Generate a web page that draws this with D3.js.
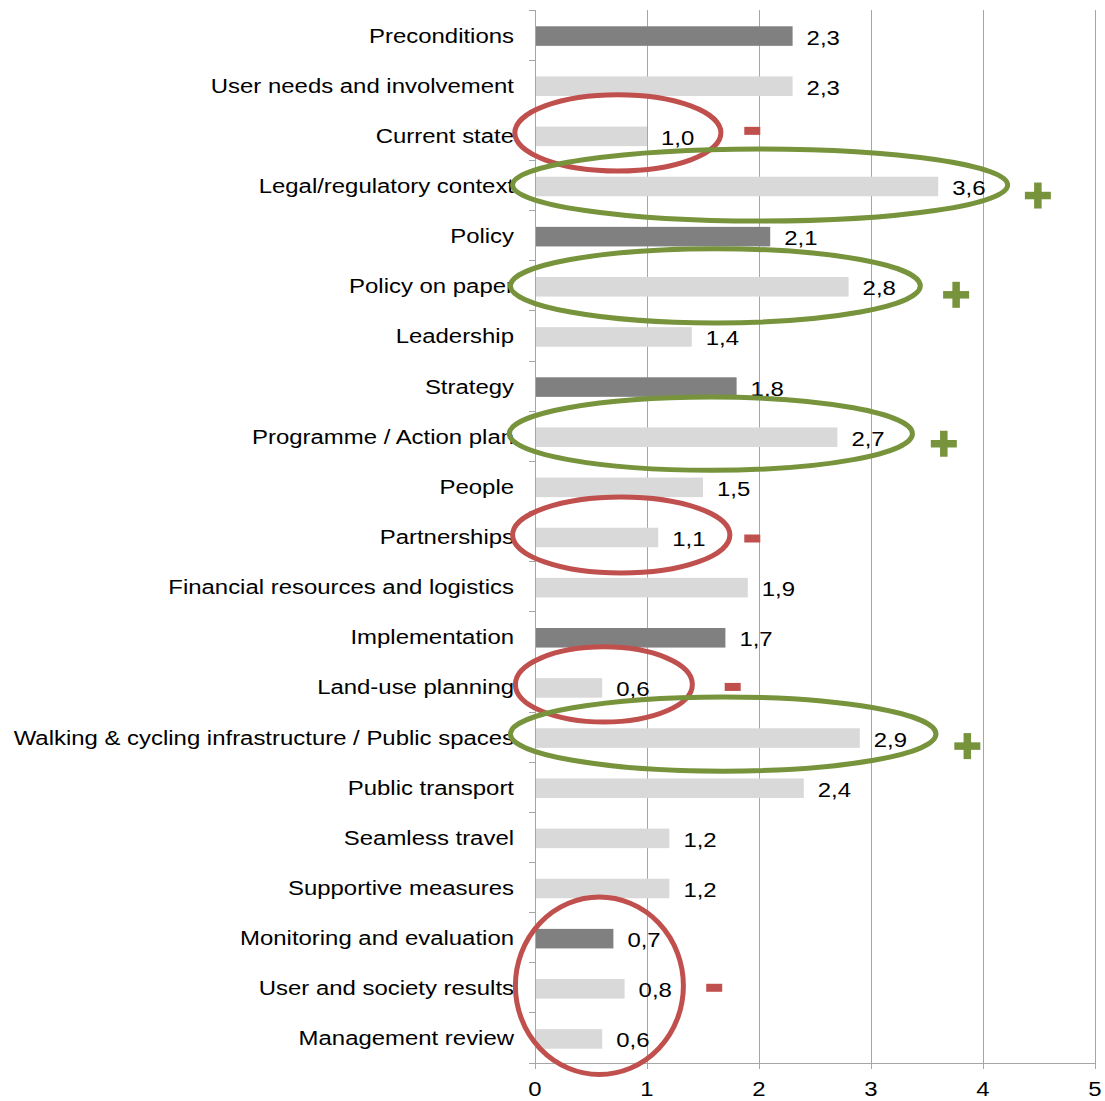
<!DOCTYPE html>
<html><head><meta charset="utf-8">
<script src="https://cdn.jsdelivr.net/npm/d3@7"></script>
<style>
body{margin:0;background:#fff}
svg{display:block}
text{font-family:"Liberation Sans",Arial,sans-serif;fill:#000}
</style>
</head><body>
<svg id="chart" width="1105" height="1101"></svg>
<script>
// ---- data ----
const categories = [
  "Preconditions",
  "User needs and involvement",
  "Current state",
  "Legal/regulatory context",
  "Policy",
  "Policy on paper",
  "Leadership",
  "Strategy",
  "Programme / Action plan",
  "People",
  "Partnerships",
  "Financial resources and logistics",
  "Implementation",
  "Land-use planning",
  "Walking & cycling infrastructure / Public spaces",
  "Public transport",
  "Seamless travel",
  "Supportive measures",
  "Monitoring and evaluation",
  "User and society results",
  "Management review"
];
const values = [2.3, 2.3, 1.0, 3.6, 2.1, 2.8, 1.4, 1.8, 2.7, 1.5, 1.1, 1.9, 1.7, 0.6, 2.9, 2.4, 1.2, 1.2, 0.7, 0.8, 0.6];
const headerCategories = ["Preconditions", "Policy", "Strategy", "Implementation", "Monitoring and evaluation"];
const xTickValues = [0, 1, 2, 3, 4, 5];

// annotation ellipses: centre in value units / row offset, radii in value units / rows
const highlightEllipses = [
  {cat: "Current state",                                   cx: 0.74, dy: -0.05, rx: 0.92, ry: 0.76, kind: "neg"},
  {cat: "Legal/regulatory context",                        cx: 2.01, dy: -0.01, rx: 2.21, ry: 0.72, kind: "pos"},
  {cat: "Policy on paper",                                 cx: 1.61, dy: 0.00,  rx: 1.83, ry: 0.74, kind: "pos"},
  {cat: "Programme / Action plan",                         cx: 1.57, dy: -0.05, rx: 1.80, ry: 0.73, kind: "pos"},
  {cat: "Partnerships",                                    cx: 0.77, dy: -0.03, rx: 0.97, ry: 0.76, kind: "neg"},
  {cat: "Land-use planning",                               cx: 0.615, dy: -0.05, rx: 0.79, ry: 0.75, kind: "neg"},
  {cat: "Walking & cycling infrastructure / Public spaces", cx: 1.68, dy: -0.06, rx: 1.90, ry: 0.74, kind: "pos"},
  {cat: "User and society results",                        cx: 0.575, dy: -0.04, rx: 0.75, ry: 1.77, kind: "neg"}
];
const signMarks = [
  {cat: "Current state",                                   x: 1.94, dy: -0.09, kind: "neg"},
  {cat: "Legal/regulatory context",                        x: 4.49, dy: 0.20,  kind: "pos"},
  {cat: "Policy on paper",                                 x: 3.76, dy: 0.18,  kind: "pos"},
  {cat: "Programme / Action plan",                         x: 3.65, dy: 0.15,  kind: "pos"},
  {cat: "Partnerships",                                    x: 1.94, dy: 0.04,  kind: "neg"},
  {cat: "Land-use planning",                               x: 1.765, dy: 0.00, kind: "neg"},
  {cat: "Walking & cycling infrastructure / Public spaces", x: 3.86, dy: 0.18,  kind: "pos"},
  {cat: "User and society results",                        x: 1.60, dy: 0.00,  kind: "neg"}
];

// ---- layout ----
const PLOT_LEFT = 535, PLOT_RIGHT = 1095, PLOT_TOP = 10, PLOT_BOTTOM = 1063;
const SX = 1.14;          // horizontal stretch of text
const FS = 21;
const RED = "#c0504d", GREEN = "#77933c";
const GRID = "#a6a6a6";

const x = d3.scaleLinear().domain([0, 5]).range([PLOT_LEFT, PLOT_RIGHT]);
const y = d3.scaleBand().domain(categories).range([PLOT_TOP, PLOT_BOTTOM]).padding(0);
const step = y.step();
const rowC = c => y(c) + step / 2;
const fmt = v => d3.format(".1f")(v).replace(".", ",");

const svg = d3.select("#chart");

// gridlines
svg.append("g").selectAll("line").data(xTickValues.filter(t => t > 0)).join("line")
  .attr("x1", d => x(d)).attr("x2", d => x(d))
  .attr("y1", PLOT_TOP).attr("y2", PLOT_BOTTOM)
  .attr("stroke", GRID).attr("stroke-width", 1).attr("shape-rendering", "crispEdges");

// bars
const bh = step * 0.39;
svg.append("g").selectAll("rect").data(categories).join("rect")
  .attr("x", x(0))
  .attr("y", d => rowC(d) - bh / 2 + 1)
  .attr("width", (d, i) => x(values[i]) - x(0))
  .attr("height", bh)
  .attr("fill", d => headerCategories.includes(d) ? "#808080" : "#d9d9d9");

// y axis line + ticks at band boundaries
const boundaries = categories.map(c => y(c)).concat([y(categories[categories.length - 1]) + step]);
const ax = svg.append("g").attr("stroke", GRID).attr("shape-rendering", "crispEdges");
ax.append("line").attr("x1", x(0)).attr("x2", x(0)).attr("y1", PLOT_TOP).attr("y2", PLOT_BOTTOM);
ax.selectAll("line.yt").data(boundaries).join("line").attr("class", "yt")
  .attr("x1", x(0) - 6).attr("x2", x(0)).attr("y1", d => d).attr("y2", d => d);
// x axis line + ticks
ax.append("line").attr("x1", x(0) - 6).attr("x2", x(5)).attr("y1", PLOT_BOTTOM).attr("y2", PLOT_BOTTOM);
ax.selectAll("line.xt").data(xTickValues).join("line").attr("class", "xt")
  .attr("x1", d => x(d)).attr("x2", d => x(d)).attr("y1", PLOT_BOTTOM).attr("y2", PLOT_BOTTOM + 6);

// x tick labels
svg.append("g").selectAll("text").data(xTickValues).join("text")
  .attr("transform", d => `translate(${x(d)},${PLOT_BOTTOM + 33}) scale(${SX},1)`)
  .attr("text-anchor", "middle").attr("font-size", FS)
  .text(d => d);

// category labels
svg.append("g").selectAll("text").data(categories).join("text")
  .attr("transform", d => `translate(${PLOT_LEFT - 21},${rowC(d) + 7.5}) scale(${SX},1)`)
  .attr("text-anchor", "end").attr("font-size", FS)
  .text(d => d);

// value labels
svg.append("g").selectAll("text").data(categories).join("text")
  .attr("transform", (d, i) => `translate(${x(values[i]) + 14},${rowC(d) + 9.5}) scale(${SX},1)`)
  .attr("text-anchor", "start").attr("font-size", FS)
  .text((d, i) => fmt(values[i]));

// highlight ellipses
const u = x(1) - x(0);
svg.append("g").selectAll("ellipse").data(highlightEllipses).join("ellipse")
  .attr("cx", d => x(d.cx))
  .attr("cy", d => rowC(d.cat) + d.dy * step)
  .attr("rx", d => d.rx * u)
  .attr("ry", d => d.ry * step)
  .attr("fill", "none")
  .attr("stroke", d => d.kind === "neg" ? RED : GREEN)
  .attr("stroke-width", 5);

// plus / minus signs
const sg = svg.append("g");
signMarks.forEach(s => {
  const cx = x(s.x), cy = rowC(s.cat) + s.dy * step;
  if (s.kind === "neg") {
    sg.append("rect").attr("x", cx - 8).attr("y", cy - 4).attr("width", 16).attr("height", 8).attr("fill", RED);
  } else {
    sg.append("rect").attr("x", cx - 13).attr("y", cy - 3.75).attr("width", 26).attr("height", 7.5).attr("fill", GREEN);
    sg.append("rect").attr("x", cx - 3.75).attr("y", cy - 13).attr("width", 7.5).attr("height", 26).attr("fill", GREEN);
  }
});
</script>
</body></html>
